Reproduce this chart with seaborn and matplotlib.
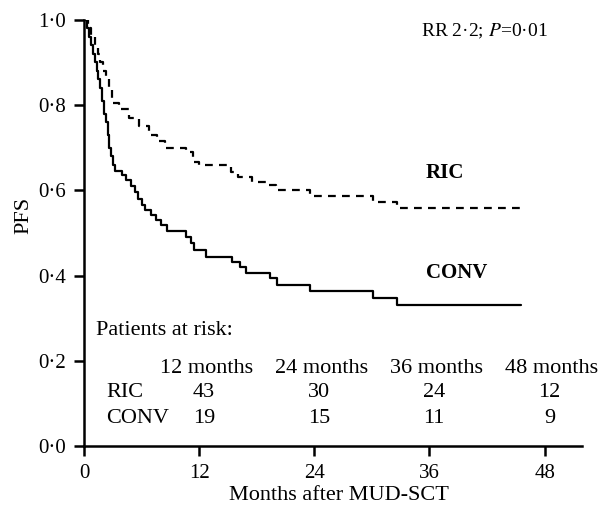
import pandas as pd
import seaborn as sns
import matplotlib.pyplot as plt

# Kaplan-Meier step data (months, PFS)
ric_months = [0, 0.4, 0.7, 1.1, 1.4, 1.7, 2.0, 2.3, 2.6, 2.9, 3.6, 4.7, 5.7, 6.8,
              7.6, 8.4, 10.6, 11.3, 12.0, 15.3, 16.0, 17.5, 19.3, 20.0, 23.5,
              30.1, 32.6, 45.5]
ric_pfs = [1.0, 0.98, 0.96, 0.94, 0.92, 0.90, 0.88, 0.86, 0.835, 0.805, 0.79, 0.77,
           0.75, 0.73, 0.715, 0.70, 0.69, 0.667, 0.66, 0.643, 0.632, 0.62, 0.613,
           0.60, 0.587, 0.572, 0.558, 0.558]

conv_months = [0, 0.3, 0.5, 0.7, 0.9, 1.1, 1.3, 1.5, 1.7, 1.9, 2.1, 2.3, 2.45, 2.6,
               2.8, 3.0, 3.2, 3.9, 4.4, 4.9, 5.3, 5.6, 6.0, 6.3, 7.0, 7.5, 8.0, 8.6,
               10.6, 11.1, 11.5, 12.7, 15.4, 16.3, 16.9, 19.4, 20.1, 23.5, 30.1,
               32.6, 45.5]
conv_pfs = [1.0, 0.98, 0.96, 0.94, 0.92, 0.90, 0.88, 0.86, 0.84, 0.81, 0.78, 0.76,
            0.73, 0.70, 0.68, 0.66, 0.645, 0.635, 0.624, 0.61, 0.597, 0.58, 0.565,
            0.554, 0.542, 0.53, 0.518, 0.505, 0.49, 0.476, 0.46, 0.444, 0.431, 0.42,
            0.406, 0.394, 0.378, 0.364, 0.348, 0.331, 0.331]

risk_months = [12, 24, 36, 48]
ric_at_risk = [43, 30, 24, 12]
conv_at_risk = [19, 15, 11, 9]

x_ticks = [0, 12, 24, 36, 48]
y_ticks = [0.0, 0.2, 0.4, 0.6, 0.8, 1.0]
y_tick_labels = ["0·0", "0·2", "0·4", "0·6", "0·8", "1·0"]

sns.set_theme(style="ticks")
plt.rcParams["font.family"] = ["Liberation Serif", "DejaVu Serif"]
plt.rcParams["mathtext.fontset"] = "stix"
plt.rcParams["text.color"] = "black"
plt.rcParams["axes.labelcolor"] = "black"

fig = plt.figure(figsize=(6.05, 5.07), dpi=100)
ax = fig.add_axes([0.139, 0.120, 0.823, 0.841])

ric = pd.DataFrame({"months": ric_months, "pfs": ric_pfs})
conv = pd.DataFrame({"months": conv_months, "pfs": conv_pfs})

sns.lineplot(data=ric, x="months", y="pfs", ax=ax, color="black", lw=1.6,
             drawstyle="steps-post", estimator=None,
             linestyle=(0, (3.5, 2.8)))
sns.lineplot(data=conv, x="months", y="pfs", ax=ax, color="black", lw=1.6,
             drawstyle="steps-post", estimator=None)

ax.set_xlim(0, 51.9)
ax.set_ylim(0, 1.0)
ax.set_xticks(x_ticks)
ax.set_xticklabels([str(t) for t in x_ticks])
ax.set_yticks(y_ticks)
ax.set_yticklabels(y_tick_labels)
ax.tick_params(axis="both", direction="out", length=7, width=1.8,
               colors="black", labelsize=15)
ax.tick_params(axis="y", pad=6)
ax.tick_params(axis="x", pad=6)
for side in ["top", "right"]:
    ax.spines[side].set_visible(False)
for side in ["left", "bottom"]:
    ax.spines[side].set_linewidth(1.8)
    ax.spines[side].set_color("black")

ax.set_xlabel("Months after MUD-SCT", fontsize=16, va="baseline")
ax.xaxis.set_label_coords(0.512, -0.127)
ax.set_ylabel("PFS", fontsize=16)
ax.yaxis.set_label_coords(-0.102, 0.54)

# annotations
ax.text(35.1, 0.96, "RR 2·2; $P$=0·01", fontsize=14, ha="left", va="baseline")
ax.text(35.6, 0.629, "RIC", fontsize=15, fontweight="bold", ha="left", va="baseline")
ax.text(35.6, 0.394, "CONV", fontsize=15, fontweight="bold", ha="left", va="baseline")

ax.text(1.2, 0.261, "Patients at risk:", fontsize=16, ha="left", va="baseline")
for m in risk_months:
    ax.text(m + 0.75, 0.172, f"{m} months", fontsize=16, ha="center",
            va="baseline", clip_on=False)
ax.text(2.3, 0.116, "RIC", fontsize=16, ha="left", va="baseline")
ax.text(2.3, 0.054, "CONV", fontsize=16, ha="left", va="baseline")
for m, a, b in zip(risk_months, ric_at_risk, conv_at_risk):
    ax.text(m + 0.5, 0.116, str(a), fontsize=16, ha="center", va="baseline")
    ax.text(m + 0.5, 0.054, str(b), fontsize=16, ha="center", va="baseline")

fig.savefig("out.png", dpi=100)
